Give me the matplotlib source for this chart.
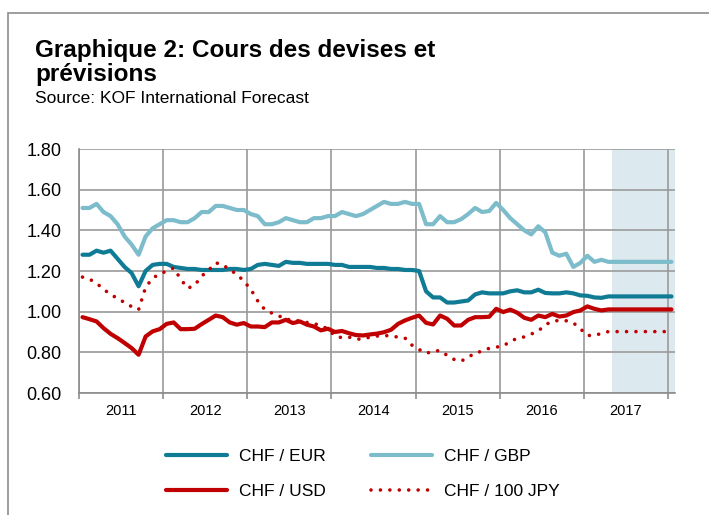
import numpy as np
import matplotlib
matplotlib.use("Agg")
import matplotlib.pyplot as plt
from matplotlib.patches import Rectangle

plt.rcParams['font.family'] = ['Liberation Sans', 'DejaVu Sans']

# monthly data, Jan 2011 .. Jan 2018 (forecast from May 2017)
years = ["2011", "2012", "2013", "2014", "2015", "2016", "2017"]

chf_eur = [1.28, 1.28, 1.30, 1.29, 1.30, 1.26, 1.22, 1.19, 1.125, 1.20, 1.23, 1.235,
           1.235, 1.22, 1.215, 1.21, 1.21, 1.205, 1.205, 1.205, 1.205, 1.21, 1.21, 1.205,
           1.21, 1.23, 1.235, 1.23, 1.225, 1.245, 1.24, 1.24, 1.235, 1.235, 1.235, 1.235,
           1.23, 1.23, 1.22, 1.22, 1.22, 1.22, 1.215, 1.215, 1.21, 1.21, 1.205, 1.205,
           1.20, 1.10, 1.07, 1.07, 1.045, 1.045, 1.05, 1.055, 1.085, 1.095, 1.09, 1.09,
           1.09, 1.10, 1.105, 1.095, 1.095, 1.108, 1.092, 1.09, 1.09, 1.095, 1.09, 1.08,
           1.078, 1.07, 1.068, 1.075, 1.075, 1.075, 1.075, 1.075, 1.075, 1.075, 1.075, 1.075,
           1.075]

chf_gbp = [1.51, 1.51, 1.53, 1.49, 1.47, 1.43, 1.37, 1.33, 1.28, 1.37, 1.41, 1.43,
           1.45, 1.45, 1.44, 1.44, 1.46, 1.49, 1.49, 1.52, 1.52, 1.51, 1.50, 1.50,
           1.48, 1.47, 1.43, 1.43, 1.44, 1.46, 1.45, 1.44, 1.44, 1.46, 1.46, 1.47,
           1.47, 1.49, 1.48, 1.47, 1.48, 1.50, 1.52, 1.54, 1.53, 1.53, 1.54, 1.53,
           1.53, 1.43, 1.43, 1.47, 1.44, 1.44, 1.455, 1.48, 1.51, 1.49, 1.495, 1.535,
           1.50, 1.46, 1.43, 1.40, 1.38, 1.42, 1.39, 1.29, 1.275, 1.285, 1.22, 1.24,
           1.275, 1.245, 1.255, 1.245, 1.245, 1.245, 1.245, 1.245, 1.245, 1.245, 1.245, 1.245,
           1.245]

chf_usd = [0.973, 0.963, 0.952, 0.919, 0.891, 0.87, 0.846, 0.821, 0.788, 0.878, 0.903, 0.914,
           0.94, 0.947, 0.914, 0.914, 0.916, 0.939, 0.96, 0.981, 0.973, 0.947, 0.936, 0.944,
           0.927, 0.927, 0.924, 0.947, 0.947, 0.96, 0.944, 0.952, 0.936, 0.927, 0.908, 0.916,
           0.90, 0.905, 0.894, 0.885, 0.883, 0.888, 0.892, 0.899, 0.911, 0.94, 0.957, 0.97,
           0.981, 0.945, 0.937, 0.981, 0.965, 0.932, 0.932, 0.96, 0.973, 0.973, 0.975, 1.014,
           0.998, 1.01, 0.995, 0.97, 0.96, 0.981, 0.973, 0.989, 0.976, 0.981, 0.998, 1.006,
           1.026, 1.014, 1.006, 1.011, 1.011, 1.011, 1.011, 1.011, 1.011, 1.011, 1.011, 1.011,
           1.011]

chf_jpy = [1.17, 1.16, 1.14, 1.11, 1.085, 1.065, 1.045, 1.025, 1.01, 1.12, 1.165, 1.185,
           1.20, 1.215, 1.16, 1.115, 1.13, 1.175, 1.205, 1.24, 1.232, 1.205, 1.185, 1.15,
           1.11, 1.052, 1.01, 0.993, 0.98, 0.96, 0.963, 0.952, 0.947, 0.942, 0.93, 0.916,
           0.88, 0.872, 0.875, 0.865, 0.865, 0.875, 0.88, 0.883, 0.88, 0.875, 0.87, 0.835,
           0.814, 0.795, 0.805, 0.809, 0.785, 0.765, 0.757, 0.775, 0.798, 0.805, 0.82, 0.826,
           0.83, 0.855, 0.868, 0.876, 0.89, 0.905, 0.935, 0.953, 0.957, 0.955, 0.945, 0.916,
           0.883, 0.883, 0.893, 0.902, 0.902, 0.902, 0.902, 0.902, 0.902, 0.902, 0.902, 0.902,
           0.902]

forecast_start = 76  # May 2017

n = len(chf_eur)
x = np.arange(n) + 0.5

fig = plt.figure(figsize=(7.09, 5.15), dpi=100)
ax = fig.add_axes([79/709, 1 - 393/515, 596/709, 244/515])

# frame around the chart (cut by the image edge)
fig.patches.append(Rectangle((8/709, -0.05), 1.2, 0.05 + 1 - 12.5/515,
                             transform=fig.transFigure, fill=False,
                             edgecolor="#8c8c8c", lw=1.2))

ax.axvspan(forecast_start, n, color="#dce9ef", zorder=0, lw=0)

ax.plot(x, chf_eur, color="#0f7b95", lw=3, solid_capstyle="round", label="CHF / EUR", zorder=3)
ax.plot(x, chf_gbp, color="#7dbccb", lw=3, solid_capstyle="round", label="CHF / GBP", zorder=3)
ax.plot(x, chf_usd, color="#c00000", lw=3, solid_capstyle="round", label="CHF / USD", zorder=3)
ax.plot(x, chf_jpy, color="#c00000", lw=2.6, linestyle=(0, (0.01, 2.6)),
        dash_capstyle="round", label="CHF / 100 JPY", zorder=4)

ax.set_xlim(0, n)
ax.set_ylim(0.6, 1.8)
yt = np.arange(0.6, 1.81, 0.2)
ax.set_yticks(yt)
ax.set_yticklabels([f"{v:.2f}" for v in yt], fontsize=13)
ax.set_xticks(np.arange(0, n, 12))
ax.set_xticklabels([])
ax.set_xticks(np.arange(6, n, 12), minor=True)
ax.set_xticklabels(years, minor=True, fontsize=10.5)
ax.tick_params(axis="x", which="major", length=4, color="#8c8c8c", width=1.2)
ax.tick_params(axis="x", which="minor", length=0, pad=8)
ax.tick_params(axis="y", length=0, pad=12.5)

ax.grid(True, which="major", color="#9a9a9a", lw=1.2, zorder=1)
ax.set_axisbelow(True)
for s in ["top", "right"]:
    ax.spines[s].set_visible(False)
for s in ["left", "bottom"]:
    ax.spines[s].set_color("#8c8c8c")
    ax.spines[s].set_linewidth(1.2)

fig.text(35/709, 1 - 57/515, "Graphique 2: Cours des devises et",
         fontsize=17.5, fontweight="bold", ha="left", va="baseline")
fig.text(35/709, 1 - 80.5/515, "prévisions",
         fontsize=17.5, fontweight="bold", ha="left", va="baseline")
fig.text(35/709, 1 - 103/515, "Source: KOF International Forecast",
         fontsize=12.5, ha="left", va="baseline")

h, l = ax.get_legend_handles_labels()
order = [0, 2, 1, 3]
fig.legend([h[i] for i in order], [l[i] for i in order], ncol=2, frameon=False,
           loc="center left", bbox_to_anchor=(166/709, 1 - 474/515),
           fontsize=12.5, handlelength=3.5, handletextpad=0.7, columnspacing=2.6,
           labelspacing=1.1, borderpad=0, borderaxespad=0)

fig.savefig("out.png", dpi=100)
